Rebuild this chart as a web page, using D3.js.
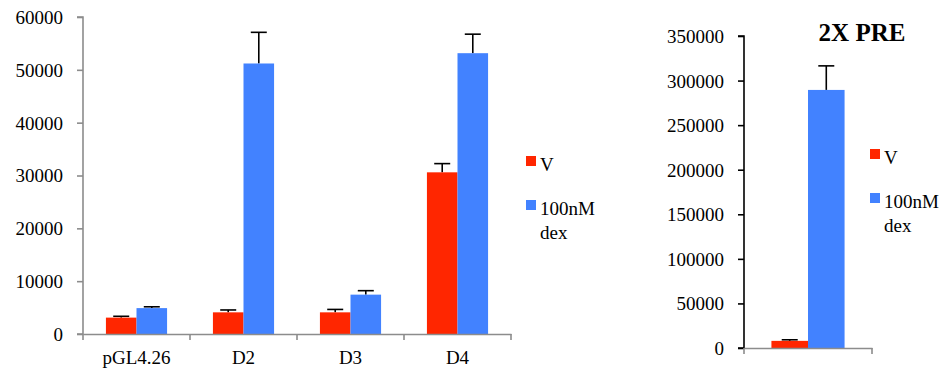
<!DOCTYPE html>
<html>
<head>
<meta charset="utf-8">
<script src="https://cdn.jsdelivr.net/npm/d3@7/dist/d3.min.js"></script>
<style>
  body { margin: 0; background: #fff; }
  svg text { font-family: "Times New Roman", "Liberation Serif", serif; }
</style>
</head>
<body>
<svg id="chart" width="951" height="379" font-family="Times New Roman"></svg>
<script>
// left panel
var categories = ["pGL4.26", "D2", "D3", "D4"];
var series = ["V", "100nM dex"];
var vehicle = [3100, 4100, 4100, 30600];
var vehicleErr = [250, 450, 550, 1650];
var dex = [4900, 51200, 7450, 53150];
var dexErr = [250, 5900, 750, 3600];
var leftTicks = [0, 10000, 20000, 30000, 40000, 50000, 60000];

// right panel
var preTitle = "2X PRE";
var preCategories = ["2X PRE"];
var preVehicle = [8000];
var preVehicleErr = [1200];
var preDex = [289500];
var preDexErr = [27000];
var rightTicks = [0, 50000, 100000, 150000, 200000, 250000, 300000, 350000];

var colors = ["#FF2600", "#4282FF"];
var fs = "19px";

var svg = d3.select("#chart");

function panel(opt) {
    var g = svg.append("g");

    var y = d3.scaleLinear().domain([0, opt.max]).range([opt.bottom, opt.top]);
    var x0 = d3.scaleBand().domain(opt.cats).range([opt.left, opt.right]).padding(0);
    var x1 = d3.scaleBand().domain(series).range([0, x0.bandwidth()])
        .paddingInner(0).paddingOuter(0.75);

    // y axis
    var ya = g.append("g")
        .attr("transform", `translate(${opt.left},0)`)
        .call(d3.axisLeft(y).tickValues(opt.ticks).tickSize(6).tickPadding(14).tickFormat(d3.format("d")));
    ya.attr("font-family", null).attr("font-size", null);
    ya.selectAll("path, line").attr("stroke", opt.yColor).attr("stroke-width", 1.6);
    ya.select(".domain").attr("d", `M-6,${opt.bottom}H0V${opt.top}H-6`);
    ya.selectAll("text").style("font-size", fs).attr("dy", "0.34em");

    var rows = opt.cats.map((c, i) => ({
        cat: c,
        vals: [
            {key: series[0], v: opt.v[i], e: opt.ve[i]},
            {key: series[1], v: opt.d[i], e: opt.de[i]}
        ]
    }));

    var grp = g.selectAll(".grp").data(rows).enter().append("g")
        .attr("transform", d => `translate(${x0(d.cat)},0)`);

    // error bars first, bar covers the lower half
    grp.selectAll(".err").data(d => d.vals).enter().append("g")
        .each(function(d) {
            var cx = x1(d.key) + x1.bandwidth() / 2;
            var s = d3.select(this);
            s.append("line").attr("x1", cx).attr("x2", cx)
                .attr("y1", y(d.v)).attr("y2", y(d.v + d.e))
                .attr("stroke", "#000").attr("stroke-width", 1.6);
            s.append("line").attr("x1", cx - 8).attr("x2", cx + 8)
                .attr("y1", y(d.v + d.e)).attr("y2", y(d.v + d.e))
                .attr("stroke", "#000").attr("stroke-width", 1.6);
        });

    grp.selectAll("rect").data(d => d.vals).enter().append("rect")
        .attr("x", d => x1(d.key))
        .attr("width", x1.bandwidth())
        .attr("y", d => y(d.v))
        .attr("height", d => y(0) - y(d.v))
        .attr("fill", (d, i) => colors[i]);

    // x axis
    var xa = g.append("g")
        .attr("transform", `translate(0,${opt.bottom})`)
        .call(d3.axisBottom(x0).tickSize(0).tickPadding(opt.labelPad));
    xa.attr("font-family", null).attr("font-size", null);
    xa.select(".domain").attr("stroke", "#8c8c8c").attr("stroke-width", 1.6);
    xa.selectAll("text").style("font-size", fs)
        .style("display", opt.showCat ? null : "none");
    var bounds = opt.cats.map(c => x0(c)).concat([x0.range()[1]]);
    xa.selectAll(".bnd").data(bounds).enter().append("line")
        .attr("x1", d => d).attr("x2", d => d)
        .attr("y1", 0).attr("y2", 6)
        .attr("stroke", "#8c8c8c").attr("stroke-width", 1.6);

    // legend
    var lg = g.append("g").attr("transform", `translate(${opt.legX},${opt.legY})`);
    lg.append("rect").attr("x", 0).attr("y", 0).attr("width", 10).attr("height", 10).attr("fill", colors[0]);
    lg.append("rect").attr("x", 0).attr("y", 44).attr("width", 10).attr("height", 10).attr("fill", colors[1]);
    lg.selectAll("text").data([[15, "V"], [59, "100nM"], [83, "dex"]]).enter().append("text")
        .attr("x", 14).attr("y", d => d[0])
        .style("font-size", fs)
        .text(d => d[1]);

    if (opt.title) {
        g.append("text")
            .attr("x", opt.titleX).attr("y", opt.titleY)
            .attr("text-anchor", "middle")
            .style("font-size", "25px").style("font-weight", "bold")
            .text(opt.title);
    }
}

panel({
    cats: categories, v: vehicle, ve: vehicleErr, d: dex, de: dexErr,
    max: 60000, ticks: leftTicks,
    left: 83, right: 511, top: 17, bottom: 334,
    yColor: "#8c8c8c", showCat: true, labelPad: 17,
    legX: 526, legY: 156
});

panel({
    cats: preCategories, v: preVehicle, ve: preVehicleErr, d: preDex, de: preDexErr,
    max: 350000, ticks: rightTicks,
    left: 744, right: 872, top: 36, bottom: 348,
    yColor: "#000", showCat: false, labelPad: 17,
    legX: 870, legY: 149,
    title: preTitle, titleX: 862, titleY: 41
});
</script>
</body>
</html>
